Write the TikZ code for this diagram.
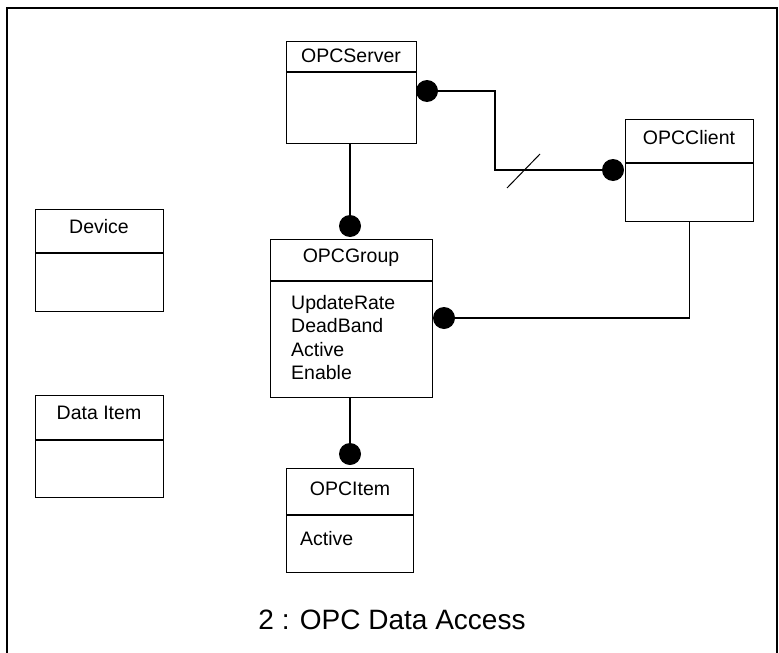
\documentclass[tikz,border=0pt]{standalone}
\usepackage{fontspec}
\setmainfont{Liberation Sans}
\usetikzlibrary{positioning}

\tikzset{
  classbox/.style={draw,line width=1.3pt,anchor=north west,inner sep=0pt},
  classname/.style={font=\fontsize{19.5}{22}\selectfont,inner sep=0pt},
  attrs/.style={font=\fontsize{19.5}{23.5}\selectfont,align=left,anchor=north west,inner sep=0pt},
  dot/.style={circle,fill=black,minimum size=22pt,inner sep=0pt},
  link/.style={line width=1.3pt}
}

\begin{document}
\begin{tikzpicture}[x=1pt,y=-1pt]
\useasboundingbox (0,0) rectangle (779,653);
\draw[line width=2pt] (7,653) -- (7,8) -- (777,8) -- (777,653);

% classes
\node[classbox,minimum width=130pt,minimum height=102pt] (server) at (286,41) {};
\draw[link] (server.west |- 0,72) -- (server.east |- 0,72);
\node[classname] (servername) at (351,56) {OPCServer};

\node[classbox,minimum width=128pt,minimum height=102pt] (client) at (625,119) {};
\draw[link] (client.west |- 0,163) -- (client.east |- 0,163);
\node[classname] (clientname) at (689,138) {OPCClient};

\node[classbox,minimum width=128pt,minimum height=102pt] (device) at (35,209) {};
\draw[link] (device.west |- 0,253) -- (device.east |- 0,253);
\node[classname] (devicename) at (99,227) {Device};

\node[classbox,minimum width=162pt,minimum height=158pt] (group) at (270,239) {};
\draw[link] (group.west |- 0,281) -- (group.east |- 0,281);
\node[classname] (groupname) at (351,258) {OPCGroup};
\node[attrs] (groupattrs) at (291,295) {UpdateRate\\DeadBand\\Active\\Enable};

\node[classbox,minimum width=128pt,minimum height=102pt] (dataitem) at (35,395) {};
\draw[link] (dataitem.west |- 0,440) -- (dataitem.east |- 0,440);
\node[classname] (dataitemname) at (99,413) {Data Item};

\node[classbox,minimum width=127pt,minimum height=104pt] (item) at (286,468) {};
\draw[link] (item.west |- 0,515) -- (item.east |- 0,515);
\node[classname] (itemname) at (350,489) {OPCItem};
\node[attrs] (itemattrs) at (300,531) {Active};

% associations
\node[dot] (serverdot) at (427,91) {};
\node[dot] (clientdot) at (613,170) {};
\node[dot] (grouptop) at (350,226) {};
\node[dot] (groupright) at (444,318) {};
\node[dot] (itemdot) at (350,454) {};

\coordinate (bend) at (495,91);
\draw[link] (serverdot) -- (bend) |- (clientdot);
\coordinate (cut) at (523,171);
\draw[line width=1pt] (cut) ++(-16,17) -- ++(33,-34);
\draw[link] (client.south) |- (groupright);
\draw[link] (grouptop |- server.south) -- (grouptop);
\draw[link] (itemdot |- group.south) -- (itemdot);

\node[font=\fontsize{28}{32}\selectfont] (caption) at (392,620) {2 : OPC Data Access};
\end{tikzpicture}
\end{document}
